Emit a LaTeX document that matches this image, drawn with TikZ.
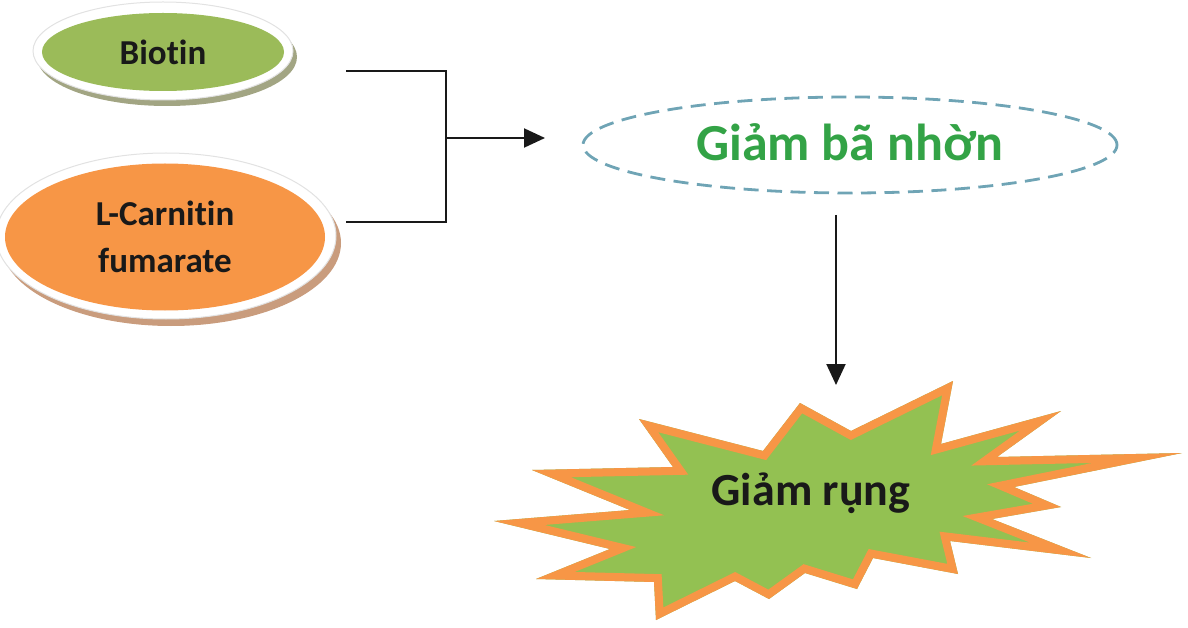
\documentclass[tikz,border=0pt]{standalone}
\usepackage{fontspec}
\setmainfont{Carlito}[Ligatures=NoCommon]
\usetikzlibrary{arrows.meta,shapes.geometric}
\definecolor{biogreen}{HTML}{9BBB59}
\definecolor{carorange}{HTML}{F79646}
\definecolor{stargreen}{HTML}{93C152}
\definecolor{txtgreen}{HTML}{33A346}
\definecolor{dashblue}{HTML}{6FA4B5}
\definecolor{bioshadow}{HTML}{A2A583}
\definecolor{carshadow}{HTML}{C99C7D}
\definecolor{halogray}{HTML}{E2E2E2}
\tikzset{
  halo/.style={ellipse, fill=white, draw=halogray, line width=1pt, inner sep=0pt},
  shadowell/.style={ellipse, inner sep=0pt, draw=none},
  pill/.style={ellipse, inner sep=0pt, draw=none, align=center,
    font=\fontsize{35}{47}\selectfont\bfseries, text=black!90},
  goal/.style={ellipse, inner sep=0pt, draw=dashblue, line width=2.8pt,
    dash pattern=on 15pt off 8.5pt, text=txtgreen,
    font=\fontsize{52}{60}\selectfont\bfseries},
  link/.style={draw=black!90, line width=2pt},
  linkarrow/.style={link, -{Triangle[length=21pt,width=19pt]}},
  burstedge/.style={draw=carorange, line width=16pt, line join=miter, miter limit=10},
  bursttext/.style={font=\fontsize{46}{52}\selectfont\bfseries, text=black!90}
}
\begin{document}
\begin{tikzpicture}[x=1pt,y=-1pt]
\useasboundingbox (0,0) rectangle (1188,628);
% Biotin
\node[shadowell, fill=bioshadow, minimum width=260pt, minimum height=98pt] (bshadow) at (167,57) {};
\node[halo, minimum width=260pt, minimum height=98pt] (bhalo) at (163,51) {};
\node[pill, fill=biogreen, minimum width=242pt, minimum height=78pt] (biotin) at (163,52) {Biotin};
% L-Carnitin
\node[shadowell, fill=carshadow, minimum width=340pt, minimum height=166pt] (cshadow) at (171,243) {};
\node[halo, minimum width=340pt, minimum height=166pt] (chalo) at (166,236) {};
\node[pill, fill=carorange, minimum width=320pt, minimum height=147pt] (carn) at (165,237) {L-Carnitin\\fumarate};
% goal ellipse
\node[goal, minimum width=534pt, minimum height=96pt, text height=32pt, text depth=0pt] (goal) at (850,145) {Giảm bã nhờn};
% connectors
\coordinate (t1) at (346,71);
\coordinate (t2) at (446,71);
\coordinate (b1) at (346,222);
\coordinate (b2) at (446,222);
\coordinate (jn) at (446,138);
\coordinate (ar) at (545,138);
\draw[link, line join=miter] (t1) -- (t2) -- (b2) -- (b1);
\draw[linkarrow] (jn) -- (ar);
% burst
\fill[stargreen] (953,381) -- (941,444) -- (1061,411) -- (997,457) -- (1182,453)
  -- (1014,487) -- (1061,507) -- (992,519) -- (1091,558) -- (950,541)
  -- (958,574) -- (873,558) -- (857,589) -- (805,573) -- (769,599)
  -- (735,581) -- (656,620) -- (654,582) -- (536,579) -- (610,549)
  -- (494,521) -- (630,510) -- (532,470) -- (673,467) -- (639,419)
  -- (763,451) -- (800,403) -- (851,431) -- cycle;
\begin{scope}
\clip (953,381) -- (941,444) -- (1061,411) -- (997,457) -- (1182,453)
  -- (1014,487) -- (1061,507) -- (992,519) -- (1091,558) -- (950,541)
  -- (958,574) -- (873,558) -- (857,589) -- (805,573) -- (769,599)
  -- (735,581) -- (656,620) -- (654,582) -- (536,579) -- (610,549)
  -- (494,521) -- (630,510) -- (532,470) -- (673,467) -- (639,419)
  -- (763,451) -- (800,403) -- (851,431) -- cycle;
\draw[burstedge] (953,381) -- (941,444) -- (1061,411) -- (997,457) -- (1182,453)
  -- (1014,487) -- (1061,507) -- (992,519) -- (1091,558) -- (950,541)
  -- (958,574) -- (873,558) -- (857,589) -- (805,573) -- (769,599)
  -- (735,581) -- (656,620) -- (654,582) -- (536,579) -- (610,549)
  -- (494,521) -- (630,510) -- (532,470) -- (673,467) -- (639,419)
  -- (763,451) -- (800,403) -- (851,431) -- cycle;
\end{scope}
\node[bursttext, anchor=base] (drop) at (811,505) {Giảm rụng};
\coordinate (v0) at (836,215);
\coordinate (v1) at (836,385);
\draw[linkarrow] (v0) -- (v1);
\end{tikzpicture}
\end{document}
